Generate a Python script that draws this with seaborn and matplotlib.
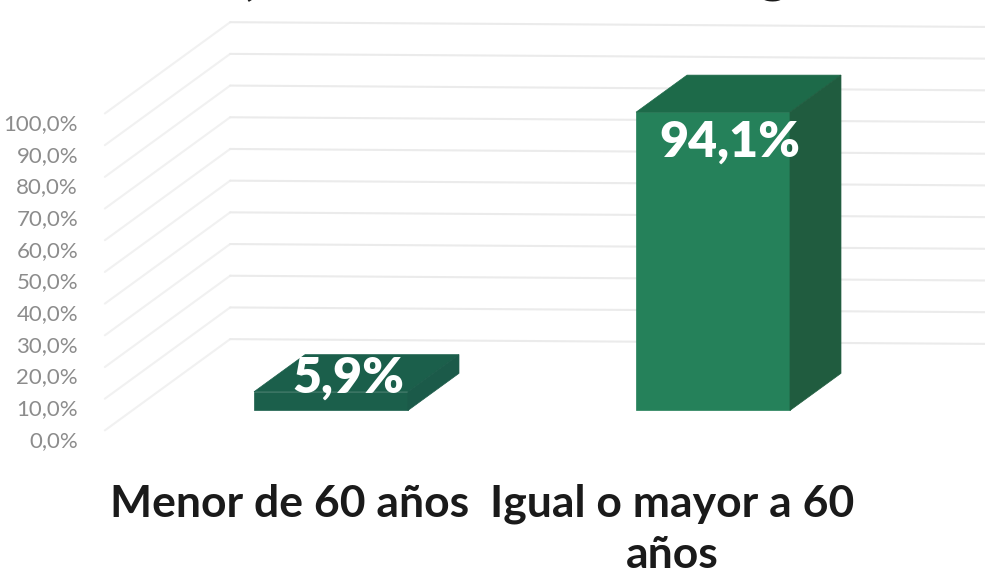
import matplotlib
matplotlib.use("Agg")
import matplotlib.pyplot as plt
import pandas as pd
import seaborn as sns

# Data
categorias = ["Menor de 60 años", "Igual o mayor a 60\naños"]
valores = [5.9, 94.1]
etiquetas = ["5,9%", "94,1%"]
ticks = [0, 10, 20, 30, 40, 50, 60, 70, 80, 90, 100]
tick_labels = ["0,0%", "10,0%", "20,0%", "30,0%", "40,0%", "50,0%", "60,0%", "70,0%", "80,0%", "90,0%", "100,0%"]

# Colors for front / top / side of each bar
color_frente = ["#1b5f4b", "#25815a"]
color_arriba = ["#1b5f4b", "#1d6a49"]
color_lado = ["#1b5a49", "#205c3f"]

# 3D look, offsets in data units
prof_x = 0.1335
prof_y = 11.7
pared_x = -0.264
pared_y = 22.5
frente_x = -0.592
frente_y = -6.3
pared_fin = 1.712
caida_pared = 1.5

sns.set_theme(style="white")
plt.rcParams["font.family"] = ["Lato", "DejaVu Sans"]

df = pd.DataFrame({"categoria": categorias, "valor": valores})

fig = plt.figure(figsize=(9.85, 5.8), dpi=100)
ax = fig.add_axes([0, 0, 1, 1])

# Walls
for t in ticks:
    ax.plot([frente_x, pared_x], [t + frente_y, t + pared_y], color="#f1f1f1", lw=1.5, zorder=1)
    ax.plot([pared_x, pared_fin], [t + pared_y, t + pared_y - caida_pared], color="#ebebeb", lw=1.5, zorder=1)

# Front faces
sns.barplot(data=df, x="categoria", y="valor", hue="categoria", palette=color_frente,
            width=0.403, legend=False, saturation=1, ax=ax, zorder=3)

# Top and side of each bar
for i, bar in enumerate(ax.patches[:len(valores)]):
    bar.set_edgecolor(color_frente[i])
    bar.set_linewidth(0.5)
    x0 = bar.get_x()
    x1 = x0 + bar.get_width()
    h = bar.get_height()
    ax.fill([x0, x0 + prof_x, x1 + prof_x, x1], [h, h + prof_y, h + prof_y, h],
            color=color_arriba[i], lw=0.5, zorder=3)
    ax.fill([x1, x1 + prof_x, x1 + prof_x, x1], [0, prof_y, h + prof_y, h],
            color=color_lado[i], lw=0.5, zorder=3)
    ax.text(x0 + bar.get_width() / 2 + 0.045, h + (4.2 if h < 50 else -9.4), etiquetas[i],
            color="white", fontsize=36, fontweight="heavy", ha="center", va="center", zorder=5)

ax.set_xlim(-0.8665, pared_fin)
ax.set_ylim(-53.5, 129.5)

# Tick labels sit below the floor line
for t, lab in zip(ticks, tick_labels):
    ax.text(-0.662, t - 9.6, lab, color="#8c8c8c", fontsize=16, ha="right", va="center")

# Category labels
ax.text(-0.108, -29.5, categorias[0], color="#1a1a1a", fontsize=32, fontweight="bold", ha="center", va="center")
ax.text(0.893, -37.5, categorias[1], color="#1a1a1a", fontsize=32, fontweight="bold", ha="center", va="center",
        linespacing=1.35)

# Title is cut by the top edge, only these descenders show
ax.text(-0.223, 131.5, "(", color="#1a1a1a", fontsize=36, fontweight="bold", ha="center", va="baseline")
ax.text(1.157, 132.5, "g", color="#1a1a1a", fontsize=42, fontweight="bold", ha="center", va="baseline")

ax.set_xlabel("")
ax.set_ylabel("")
ax.set_xticks([])
ax.set_yticks([])
sns.despine(ax=ax, left=True, bottom=True)

fig.savefig("out.png", dpi=100)
